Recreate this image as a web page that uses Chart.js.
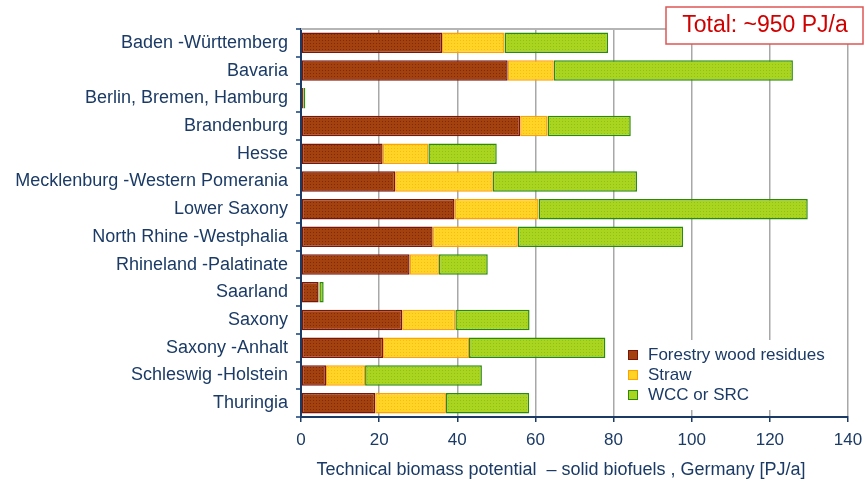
<!DOCTYPE html>
<html>
<head>
<meta charset="utf-8">
<script src="https://cdn.jsdelivr.net/npm/chart.js@4"></script>
<style>
  html, body { margin: 0; padding: 0; background: #fff; }
  #wrap { width: 866px; height: 485px; }
</style>
</head>
<body>
<div id="wrap"><canvas id="myChart" width="866" height="485"></canvas></div>
<script>
const states = ['Baden -Württemberg', 'Bavaria', 'Berlin, Bremen, Hamburg', 'Brandenburg', 'Hesse',
  'Mecklenburg -Western Pomerania', 'Lower Saxony', 'North Rhine -Westphalia', 'Rhineland -Palatinate',
  'Saarland', 'Saxony', 'Saxony -Anhalt', 'Schleswig -Holstein', 'Thuringia'];
const forestry = [36.1, 52.9, 0.5, 56.1, 20.9, 24.1, 39.3, 33.7, 27.8, 4.5, 25.9, 21.0, 6.4, 19.0];
const straw    = [16.0, 11.8, 0.1, 7.0, 11.7, 25.0, 21.5, 21.8, 7.5, 0.2, 13.6, 22.0, 10.0, 18.1];
const wcc      = [26.5, 61.2, 0.5, 21.3, 17.5, 36.9, 68.9, 42.3, 12.5, 1.1, 19.0, 34.9, 29.9, 21.3];
const xTicks = [0, 20, 40, 60, 80, 100, 120, 140];
const totalNote = 'Total: ~950 PJ/a';
const xTitle = 'Technical biomass potential  – solid biofuels , Germany [PJ/a]';

const textBlue = '#1B3B66';
const font = 'Arial, "Liberation Sans", sans-serif';

// small dotted texture like the original fills
function dots(base, dot) {
  const c = document.createElement('canvas');
  c.width = 3; c.height = 3;
  const g = c.getContext('2d');
  g.fillStyle = base; g.fillRect(0, 0, 3, 3);
  g.fillStyle = dot; g.fillRect(1, 1, 1, 1);
  return g.createPattern(c, 'repeat');
}

const ctx = document.getElementById('myChart');

const sets = [
  { label: 'Forestry wood residues', data: forestry, fill: dots('#A3410F', '#7E2A0A'), swatch: '#A3410F', border: '#7A150A' },
  { label: 'Straw', data: straw, fill: dots('#FFD427', '#F6BE10'), swatch: '#FFD427', border: '#FFA200' },
  { label: 'WCC or SRC', data: wcc, fill: dots('#A9D41F', '#93C014'), swatch: '#A9D41F', border: '#2B8A0C' }
];

const extras = {
  id: 'extras',
  beforeDatasetsDraw(chart) {
    const a = chart.chartArea, g = chart.ctx;
    g.save();
    g.strokeStyle = '#B5B5B5'; g.lineWidth = 2;
    g.beginPath(); g.moveTo(a.left, a.top); g.lineTo(a.right, a.top); g.stroke();
    g.restore();
  },
  afterDraw(chart) {
    const g = chart.ctx;
    g.save();
    // axis title (slightly left of the plot centre, as in the original)
    g.fillStyle = textBlue;
    g.font = '18px ' + font;
    g.textAlign = 'center';
    g.textBaseline = 'middle';
    g.fillText(xTitle, 561, 470);
    // legend box
    g.textAlign = 'left';
    g.fillStyle = '#fff';
    g.fillRect(617, 340, 229, 70);
    g.font = '17px ' + font;
    sets.forEach((s, i) => {
      const y = 355 + i * 20;
      g.fillStyle = s.swatch;
      g.fillRect(628, y - 5, 10, 10);
      g.strokeStyle = s.border; g.lineWidth = 1;
      g.strokeRect(628.5, y - 4.5, 9, 9);
      g.fillStyle = textBlue;
      g.fillText(s.label, 648, y);
    });
    // total note
    g.fillStyle = '#fff';
    g.fillRect(666, 7, 197, 37);
    g.strokeStyle = '#E05555'; g.lineWidth = 1.5;
    g.strokeRect(666, 7, 197, 37);
    g.fillStyle = '#D00000';
    g.font = '23px ' + font;
    g.textAlign = 'center';
    g.fillText(totalNote, 765, 26);
    g.restore();
  }
};

let chart = new Chart(ctx, {
  type: 'bar',
  data: {
    labels: states,
    datasets: sets.map(s => ({
      label: s.label,
      data: s.data,
      backgroundColor: s.fill,
      borderColor: s.border,
      borderWidth: 1.5,
      borderSkipped: false,
      barPercentage: 0.74,
      categoryPercentage: 1
    }))
  },
  options: {
    indexAxis: 'y',
    responsive: false,
    animation: false,
    layout: { padding: { top: 29, right: 18, left: 0, bottom: 0 } },
    plugins: { legend: { display: false }, tooltip: { enabled: false } },
    scales: {
      x: {
        stacked: true,
        min: 0, max: 140,
        afterBuildTicks(scale) { scale.ticks = xTicks.map(v => ({ value: v })); },
        afterFit(scale) { scale.height = 68; scale.paddingRight = 0; scale.paddingLeft = 0; },
        grid: { color: '#A8A8A8', lineWidth: 1.5, tickColor: textBlue, tickLength: 5, drawTicks: true },
        border: { color: textBlue, width: 2 },
        ticks: { color: textBlue, font: { size: 17, family: font }, padding: 8, maxRotation: 0 }
      },
      y: {
        stacked: true,
        afterFit(scale) { scale.width = 301; },
        grid: { drawOnChartArea: false, tickColor: '#4E6E9A', tickLength: 5, lineWidth: 2 },
        border: { color: textBlue, width: 2 },
        ticks: { color: textBlue, font: { size: 18, family: font }, padding: 8, autoSkip: false }
      }
    }
  },
  plugins: [extras]
});
</script>
</body>
</html>
